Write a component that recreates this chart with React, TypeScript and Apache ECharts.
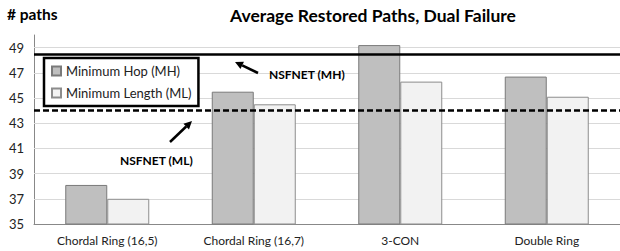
import React, { useEffect, useRef } from "react";
import * as echarts from "echarts";

const categories = ["Chordal Ring (16,5)", "Chordal Ring (16,7)", "3-CON", "Double Ring"];
const mhValues = [38.1, 45.5, 49.2, 46.7];
const mlValues = [37.0, 44.5, 46.3, 45.1];
const nsfnetMH = 48.5;
const nsfnetML = 44.0;
const yTicks = [35, 37, 39, 41, 43, 45, 47, 49];
const yMin = 35;
const yMax = 50;

const FONT = "Lato, 'Open Sans', sans-serif";

function arrow(x1: number, y1: number, x2: number, y2: number) {
  const ang = Math.atan2(y2 - y1, x2 - x1);
  const len = 8;
  const w = 4;
  const bx = x2 - len * Math.cos(ang);
  const by = y2 - len * Math.sin(ang);
  const px = -Math.sin(ang) * w;
  const py = Math.cos(ang) * w;
  return [
    {
      type: "line",
      shape: { x1, y1, x2: bx, y2: by },
      style: { stroke: "#000", lineWidth: 2.5 },
    },
    {
      type: "polygon",
      shape: { points: [[x2, y2], [bx + px, by + py], [bx - px, by - py]] },
      style: { fill: "#000" },
    },
  ];
}

export default function App() {
  const ref = useRef<HTMLDivElement>(null);
  useEffect(() => {
    document.body.style.margin = "0";
    const chart = echarts.init(ref.current!, null, { renderer: "svg" });
    chart.setOption({
      animation: false,
      backgroundColor: "#fff",
      textStyle: { fontFamily: FONT },
      grid: { left: 34, right: -1, top: 35, bottom: 27, containLabel: false },
      legend: {
        orient: "vertical",
        left: 44,
        top: 58,
        padding: [6, 7, 6, 7],
        borderColor: "#000",
        borderWidth: 2.5,
        backgroundColor: "#fff",
        itemWidth: 9,
        itemHeight: 9,
        itemGap: 8,
        icon: "rect",
        textStyle: { fontFamily: FONT, fontSize: 13, color: "#222", lineHeight: 14 },
        data: ["Minimum Hop (MH)", "Minimum Length (ML)"],
      },
      xAxis: {
        type: "category",
        data: categories,
        axisLine: { show: true, lineStyle: { color: "#888", width: 1 } },
        axisTick: { show: false },
        axisLabel: { fontFamily: FONT, fontSize: 12, color: "#222", margin: 10 },
      },
      yAxis: {
        type: "value",
        min: yMin,
        max: yMax,
        interval: 1,
        axisLine: { show: true, lineStyle: { color: "#888", width: 1 } },
        axisTick: { show: false },
        splitLine: { show: false },
        axisLabel: {
          fontFamily: FONT,
          fontSize: 13,
          color: "#222",
          margin: 10,
          formatter: (v: number) => (yTicks.indexOf(v) >= 0 ? String(v) : ""),
        },
      },
      series: [
        {
          type: "line",
          name: "grid",
          data: [],
          silent: true,
          markLine: {
            z: 1,
            silent: true,
            symbol: "none",
            label: { show: false },
            lineStyle: { color: "#d9d9d9", width: 1, type: "solid" },
            data: yTicks.filter((t) => t !== yMin).map((t) => ({ yAxis: t })),
          },
        },
        {
          type: "bar",
          name: "Minimum Hop (MH)",
          data: mhValues,
          barWidth: 42,
          barGap: "0%",
          z: 2,
          itemStyle: { color: "#bfbfbf", borderColor: "#7a7a7a", borderWidth: 1 },
          markLine: {
            z: 5,
            silent: true,
            symbol: "none",
            label: { show: false },
            data: [
              { yAxis: nsfnetMH, lineStyle: { color: "#000", width: 2.5, type: "solid" } },
              { yAxis: nsfnetML, lineStyle: { color: "#000", width: 2.5, type: [6, 3] } },
            ],
          },
        },
        {
          type: "bar",
          name: "Minimum Length (ML)",
          data: mlValues,
          barWidth: 42,
          barGap: "0%",
          z: 2,
          itemStyle: { color: "#f2f2f2", borderColor: "#8c8c8c", borderWidth: 1 },
        },
      ],
      graphic: [
        {
          type: "text",
          left: 7,
          top: 6,
          style: { text: "# paths", font: `bold 15.5px ${FONT}`, fill: "#000" },
        },
        {
          type: "text",
          x: 373,
          y: 15,
          style: {
            text: "Average Restored Paths, Dual Failure",
            font: `bold 17.5px ${FONT}`,
            fill: "#000",
            align: "center",
            verticalAlign: "middle",
          },
        },
        {
          type: "text",
          x: 269,
          y: 74,
          z: 10,
          style: { text: "NSFNET (MH)", font: `bold 12px ${FONT}`, fill: "#000", verticalAlign: "middle" },
        },
        {
          type: "text",
          x: 120,
          y: 160,
          z: 10,
          style: { text: "NSFNET (ML)", font: `bold 12px ${FONT}`, fill: "#000", verticalAlign: "middle" },
        },
        ...arrow(258, 73, 235, 62).map((g) => ({ ...g, z: 10 })),
        ...arrow(170, 142, 192, 121).map((g) => ({ ...g, z: 10 })),
      ],
    });
    return () => chart.dispose();
  }, []);
  return (
    <div
      ref={ref}
      style={{ position: "fixed", left: 0, top: 0, width: 620, height: 251 }}
    />
  );
}
